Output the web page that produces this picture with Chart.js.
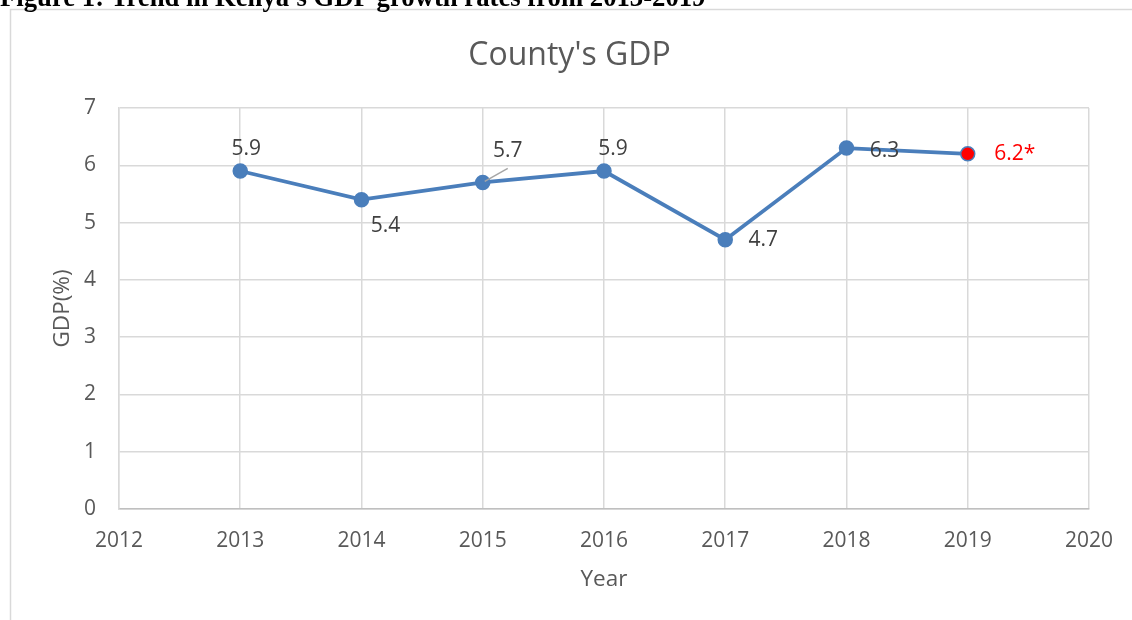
<!DOCTYPE html>
<html>
<head>
<meta charset="utf-8">
<script src="https://cdn.jsdelivr.net/npm/chart.js@4"></script>
<style>
  html, body { margin: 0; padding: 0; background: #fff; }
  #wrap { position: relative; width: 1132px; height: 620px; }
</style>
</head>
<body>
<div id="wrap"><canvas id="gdp_chart"></canvas></div>
<script>
// data
const years = [2013, 2014, 2015, 2016, 2017, 2018, 2019];
const gdpGrowth = [5.9, 5.4, 5.7, 5.9, 4.7, 6.3, 6.2];
const pointLabels = ['5.9', '5.4', '5.7', '5.9', '4.7', '6.3', '6.2*'];
const estimatedYear = 2019;
const yearTicks = [2012, 2013, 2014, 2015, 2016, 2017, 2018, 2019, 2020];
const caption = "Figure 1: Trend in Kenya's GDP growth rates from 2013-2019";

const blue = '#4a7ebb';
const red = '#ff0000';
const grey = '#595959';
const fontFamily = '"Open Sans", sans-serif';

// where each data label sits relative to its point (centre offsets)
const labelPlacement = [
  { dx: 6, dy: -22 },
  { dx: 24, dy: 26 },
  { dx: 25, dy: -31, leader: true },
  { dx: 9, dy: -22 },
  { dx: 38, dy: 0 },
  { dx: 38, dy: 3 },
  { dx: 47, dy: 0 }
];

const framePlugin = {
  id: 'frame',
  beforeDraw(chart) {
    const ctx = chart.ctx;
    ctx.save();
    ctx.fillStyle = '#fff';
    ctx.fillRect(0, 0, chart.width, chart.height);
    ctx.strokeStyle = '#d9d9d9';
    ctx.lineWidth = 1.5;
    ctx.beginPath();
    ctx.moveTo(10.5, chart.height);
    ctx.lineTo(10.5, 9.5);
    ctx.lineTo(chart.width, 9.5);
    ctx.stroke();
    // caption of the document, cut off at the top
    ctx.font = 'bold 20px "Liberation Serif", serif';
    const size = 20 * 705 / ctx.measureText(caption).width;
    ctx.font = 'bold ' + size.toFixed(1) + 'px "Liberation Serif", serif';
    ctx.fillStyle = '#000';
    ctx.textBaseline = 'alphabetic';
    ctx.textAlign = 'left';
    ctx.fillText(caption, 0, 6);
    ctx.restore();
  }
};

const labelPlugin = {
  id: 'pointLabels',
  afterDatasetsDraw(chart) {
    const ctx = chart.ctx;
    const meta = chart.getDatasetMeta(0);
    ctx.save();
    ctx.font = '21px ' + fontFamily;
    ctx.textAlign = 'center';
    ctx.textBaseline = 'middle';
    meta.data.forEach((pt, i) => {
      const p = labelPlacement[i];
      const x = pt.x + p.dx;
      const y = pt.y + p.dy;
      if (p.leader) {
        ctx.strokeStyle = '#a6a6a6';
        ctx.lineWidth = 1.5;
        ctx.beginPath();
        ctx.moveTo(pt.x + 2, pt.y - 1);
        ctx.lineTo(pt.x + 25, pt.y - 14);
        ctx.stroke();
      }
      ctx.fillStyle = years[i] === estimatedYear ? red : '#404040';
      ctx.fillText(pointLabels[i], x, y);
    });
    ctx.restore();
  }
};

const config = {
  type: 'line',
  data: {
    datasets: [{
      label: 'GDP(%)',
      data: years.map((yr, i) => ({ x: yr, y: gdpGrowth[i] })),
      borderColor: blue,
      borderWidth: 3.8,
      tension: 0,
      pointRadius: 7,
      pointHoverRadius: 7,
      pointBorderWidth: 1.5,
      pointBorderColor: blue,
      pointBackgroundColor: ctx => (years[ctx.dataIndex] === estimatedYear ? red : blue)
    }]
  },
  options: {
    responsive: true,
    maintainAspectRatio: false,
    animation: false,
    layout: { padding: { left: 49, right: 42, top: 37, bottom: 27 } },
    plugins: {
      legend: { display: false },
      tooltip: { enabled: false },
      title: {
        display: true,
        text: "County's GDP",
        color: grey,
        font: { family: fontFamily, size: 32, weight: 'normal' },
        padding: { top: 0, bottom: 32.6 }
      }
    },
    scales: {
      x: {
        type: 'linear',
        min: yearTicks[0],
        max: yearTicks[yearTicks.length - 1],
        afterBuildTicks: scale => { scale.ticks = yearTicks.map(v => ({ value: v })); },
        afterFit: scale => { scale.height = 84; },
        ticks: {
          color: grey,
          padding: 19,
          font: { family: fontFamily, size: 21 },
          callback: v => String(v)
        },
        grid: { color: '#d9d9d9', lineWidth: 1.5, drawTicks: false },
        border: { color: '#bfbfbf', width: 1.5 },
        title: {
          display: true,
          text: 'Year',
          color: grey,
          padding: 0,
          font: { family: fontFamily, size: 22.5 }
        }
      },
      y: {
        min: 0,
        max: 7,
        afterFit: scale => { scale.width = 70; },
        ticks: {
          stepSize: 1,
          color: grey,
          padding: 23,
          font: { family: fontFamily, size: 21 }
        },
        grid: { color: '#d9d9d9', lineWidth: 1.5, drawTicks: false },
        border: { color: '#d9d9d9', width: 1.5 },
        title: {
          display: true,
          text: 'GDP(%)',
          color: grey,
          padding: 0,
          font: { family: fontFamily, size: 22.5 }
        }
      }
    }
  },
  plugins: [framePlugin, labelPlugin]
};

new Chart(document.getElementById('gdp_chart'), config);
</script>
</body>
</html>
